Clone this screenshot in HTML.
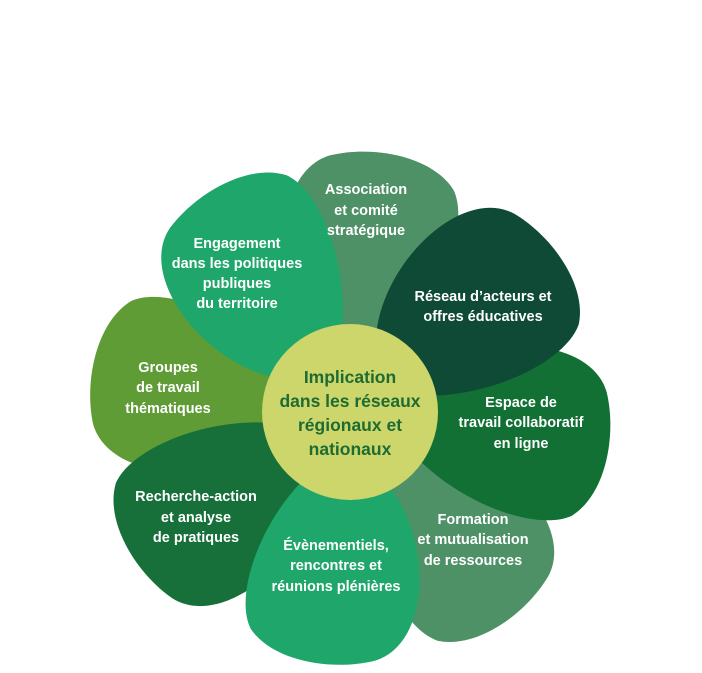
<!DOCTYPE html>
<html><head><meta charset="utf-8"><style>
html,body{margin:0;padding:0;background:#fff;}
svg{display:block}
text{font-family:"Liberation Sans",Arial,sans-serif;font-weight:bold;text-anchor:middle;}
.w{fill:#fff;font-size:14.5px;}
.c{fill:#1e6b33;font-size:17.5px;}
</style></head><body>
<svg width="702" height="673" viewBox="0 0 702 673" xmlns="http://www.w3.org/2000/svg">
<defs>
<path id="p" d="M -30,-60 C -92,-110 -100,-232 -42,-254 C 0,-268 60,-262 84,-230 C 104,-195 80,-110 30,-60 Z"/>
</defs>
<g transform="translate(350,412)">
<use href="#p" fill="#5f9c35" transform="rotate(277)"/>
<use href="#p" fill="#4f9166" transform="rotate(5)"/>
<use href="#p" fill="#1fa66a" transform="rotate(-35)"/>
<use href="#p" fill="#4f9166" transform="rotate(139)"/>
<use href="#p" fill="#17703a" transform="rotate(233)"/>
<use href="#p" fill="#1fa66a" transform="rotate(184) scale(1,0.97)"/>
<use href="#p" fill="#127034" transform="rotate(95)"/>
<use href="#p" fill="#0e4a35" transform="rotate(49)"/>
<circle r="88" fill="#ccd66a"/>
</g>
<text class="w" x="366" y="194">Association</text>
<text class="w" x="366" y="215">et comité</text>
<text class="w" x="366" y="235">stratégique</text>
<text class="w" x="237" y="248">Engagement</text>
<text class="w" x="237" y="268">dans les politiques</text>
<text class="w" x="237" y="288">publiques</text>
<text class="w" x="237" y="308">du territoire</text>
<text class="w" x="483" y="301">Réseau d’acteurs et</text>
<text class="w" x="483" y="321">offres éducatives</text>
<text class="w" x="521" y="407">Espace de</text>
<text class="w" x="521" y="427">travail collaboratif</text>
<text class="w" x="521" y="448">en ligne</text>
<text class="w" x="473" y="524">Formation</text>
<text class="w" x="473" y="544">et mutualisation</text>
<text class="w" x="473" y="565">de ressources</text>
<text class="w" x="336" y="550">Évènementiels,</text>
<text class="w" x="336" y="570">rencontres et</text>
<text class="w" x="336" y="591">réunions plénières</text>
<text class="w" x="196" y="501">Recherche-action</text>
<text class="w" x="196" y="522">et analyse</text>
<text class="w" x="196" y="542">de pratiques</text>
<text class="w" x="168" y="372">Groupes</text>
<text class="w" x="168" y="392">de travail</text>
<text class="w" x="168" y="413">thématiques</text>
<text class="c" x="350" y="383">Implication</text>
<text class="c" x="350" y="407">dans les réseaux</text>
<text class="c" x="350" y="431">régionaux et</text>
<text class="c" x="350" y="455">nationaux</text>
</svg>
</body></html>
